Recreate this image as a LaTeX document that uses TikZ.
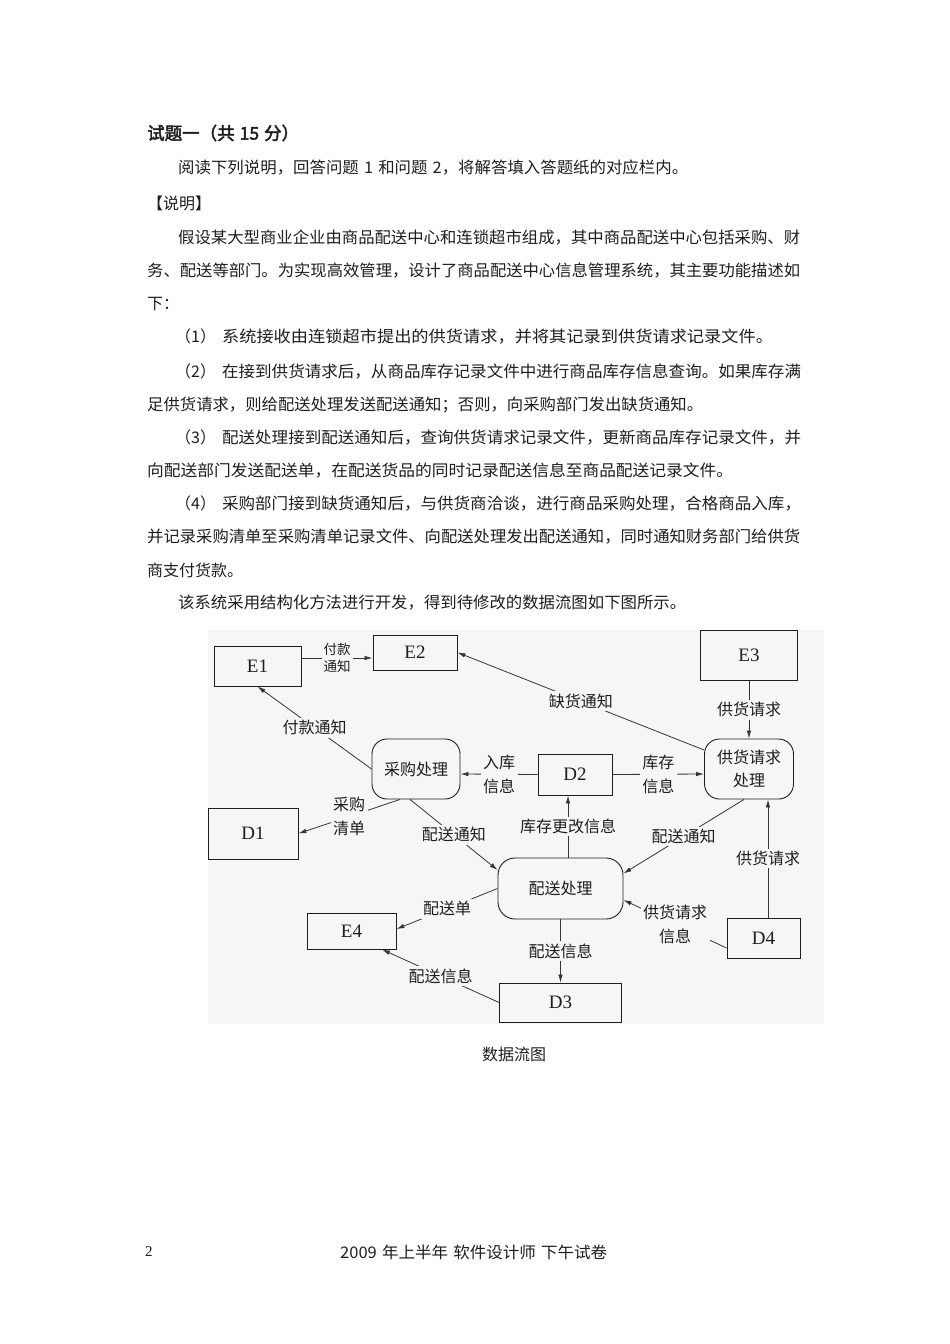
\documentclass[tikz,border=0pt]{standalone}
\usepackage{graphicx}
\usepackage{fontspec}
\setmainfont{Liberation Serif}
\newfontfamily\cjk{Noto Sans CJK SC}
\newfontfamily\cjkbf[FakeBold=2.5]{Noto Sans CJK SC}
\usetikzlibrary{arrows.meta}
\definecolor{panel}{RGB}{246,246,246}
\definecolor{ink}{RGB}{30,30,30}
\tikzset{
  body/.style={anchor=west, inner sep=0pt, text=ink, font=\cjk\fontsize{16}{16}\selectfont},
  ent/.style={draw=ink, line width=0.9pt, fill=panel, rectangle, inner sep=0pt, text=ink, font=\fontsize{19}{19}\selectfont},
  proc/.style={draw=ink, line width=0.9pt, fill=panel, rectangle, rounded corners=15pt, inner sep=0pt, align=center, text=ink, font=\cjk\fontsize{16}{23}\selectfont},
  lbl/.style={fill=panel, inner sep=2.5pt, align=center, text=ink, font=\cjk\fontsize{16}{24}\selectfont},
  slbl/.style={fill=panel, inner sep=2pt, align=center, text=ink, font=\cjk\fontsize{13.5}{17}\selectfont},
  flow/.style={draw=ink!90, line width=0.8pt, -{Latex[length=8pt,width=4.5pt]}},
}
\newcommand{\jbox}[2]{\resizebox{#1}{\height}{#2}}
\newcommand{\gap}{\hspace{5pt}}
\begin{document}
\begin{tikzpicture}[x=1pt,y=-1pt]
\useasboundingbox (0,0) rectangle (950,1344);
\fill[white] (0,0) rectangle (950,1344);

% ---- text of the question ----
\node[body, font=\cjkbf\fontsize{17.5}{17.5}\selectfont] (t1) at (147,133) {试题一（共\gap{}15\gap{}分）};
\node[body] (t2) at (178,168) {\jbox{510pt}{阅读下列说明，回答问题\gap{}1\gap{}和问题\gap{}2，将解答填入答题纸的对应栏内。}};
\node[body] (t3) at (147,203) {【说明】};
\node[body] (t4) at (178,238) {\jbox{622pt}{假设某大型商业企业由商品配送中心和连锁超市组成，其中商品配送中心包括采购、财}};
\node[body] (t5) at (147,271) {\jbox{653pt}{务、配送等部门。为实现高效管理，设计了商品配送中心信息管理系统，其主要功能描述如}};
\node[body] (t6) at (147,304) {下：};
\node[body] (t7) at (175,337) {（1）\hspace{6pt}\jbox{551pt}{系统接收由连锁超市提出的供货请求，并将其记录到供货请求记录文件。}};
\node[body] (t8) at (175,372) {（2）\hspace{6pt}\jbox{579pt}{在接到供货请求后，从商品库存记录文件中进行商品库存信息查询。如果库存满}};
\node[body] (t9) at (147,405) {\jbox{556pt}{足供货请求，则给配送处理发送配送通知；否则，向采购部门发出缺货通知。}};
\node[body] (t10) at (175,438) {（3）\hspace{6pt}\jbox{579pt}{配送处理接到配送通知后，查询供货请求记录文件，更新商品库存记录文件，并}};
\node[body] (t11) at (147,471) {\jbox{586pt}{向配送部门发送配送单，在配送货品的同时记录配送信息至商品配送记录文件。}};
\node[body] (t12) at (175,504) {（4）\hspace{6pt}\jbox{579pt}{采购部门接到缺货通知后，与供货商洽谈，进行商品采购处理，合格商品入库，}};
\node[body] (t13) at (147,537) {\jbox{653pt}{并记录采购清单至采购清单记录文件、向配送处理发出配送通知，同时通知财务部门给供货}};
\node[body] (t14) at (147,570) {商支付货款。};
\node[body] (t15) at (178,603) {\jbox{508pt}{该系统采用结构化方法进行开发，得到待修改的数据流图如下图所示。}};

% ---- diagram panel ----
\fill[panel] (208,630) rectangle (824,1024);

\node[ent, minimum width=87pt, minimum height=40pt] (E1) at (257.5,666) {E1};
\node[ent, minimum width=84pt, minimum height=35pt] (E2) at (415,652.5) {E2};
\node[ent, minimum width=97pt, minimum height=50pt] (E3) at (749,655.5) {E3};
\node[proc, minimum width=88pt, minimum height=60pt] (cg) at (416,769) {采购处理};
\node[ent, minimum width=74pt, minimum height=41pt] (D2) at (575,774.5) {D2};
\node[proc, minimum width=89pt, minimum height=60pt] (gh) at (749,769) {供货请求\\处理};
\node[ent, minimum width=90pt, minimum height=51pt] (D1) at (253,833.5) {D1};
\node[proc, minimum width=125pt, minimum height=61pt, rounded corners=17pt] (ps) at (560.5,888.5) {配送处理};
\node[ent, minimum width=89pt, minimum height=36pt] (E4) at (351.5,931) {E4};
\node[ent, minimum width=73pt, minimum height=40pt] (D4) at (763.5,938) {D4};
\node[ent, minimum width=122pt, minimum height=39pt] (D3) at (560.5,1002.5) {D3};

% ---- flows ----
\draw[flow] ([yshift=8pt]E1.east) -- node[slbl] {付款\\通知} ([yshift=-5.5pt]E2.west);
\draw[flow] (cg.west) -- node[lbl] {付款通知} (E1.south);
\draw[flow] ([yshift=19pt]gh.west) -- node[lbl] {缺货通知} (E2.east);
\draw[flow] (E3.south) -- node[lbl] {供货请求} (gh.north);
\draw[flow] (D2.west) -- node[lbl] {入库\\信息} ([yshift=-5pt]cg.east);
\draw[flow] (D2.east) -- node[lbl] {库存\\信息} ([yshift=-5pt]gh.west);
\draw[flow] ([xshift=7.5pt]ps.north) -- node[lbl] {库存更改信息} ([xshift=-7pt]D2.south);
\draw[flow] ([xshift=-6pt]cg.south) -- node[lbl] {配送通知} ([yshift=18.5pt]ps.west);
\draw[flow] ([xshift=-16pt]cg.south) -- node[lbl] {采购\\清单} (D1.east);
\draw[flow] ([xshift=-5pt]gh.south) -- node[lbl] {配送通知} ([yshift=15pt]ps.east);
\draw[flow] ([xshift=4.5pt]D4.north) -- node[lbl] {供货请求} ([xshift=19pt]gh.south);
\draw[flow] ([yshift=-10pt]D4.west) -- node[lbl] {供货请求\\信息} ([yshift=-11.5pt]ps.east);
\draw[flow] (ps.west) -- node[lbl] {配送单} ([yshift=2pt]E4.east);
\draw[flow] (ps.south) -- node[lbl] {配送信息} (D3.north);
\draw[flow] (D3.west) -- node[lbl] {配送信息} ([xshift=30.5pt]E4.south);

% ---- caption and footer ----
\node[anchor=center, inner sep=0pt, text=ink, font=\cjk\fontsize{16}{16}\selectfont] (cap) at (514,1054) {数据流图};
\node[anchor=west, inner sep=0pt, text=ink, font=\fontsize{15}{15}\selectfont] (pg) at (145,1252) {2};
\node[anchor=west, inner sep=0pt, text=ink, font=\cjk\fontsize{16}{16}\selectfont] (ft) at (340,1252) {\jbox{267pt}{2009\gap{}年上半年\gap{}软件设计师\gap{}下午试卷}};
\end{tikzpicture}
\end{document}
